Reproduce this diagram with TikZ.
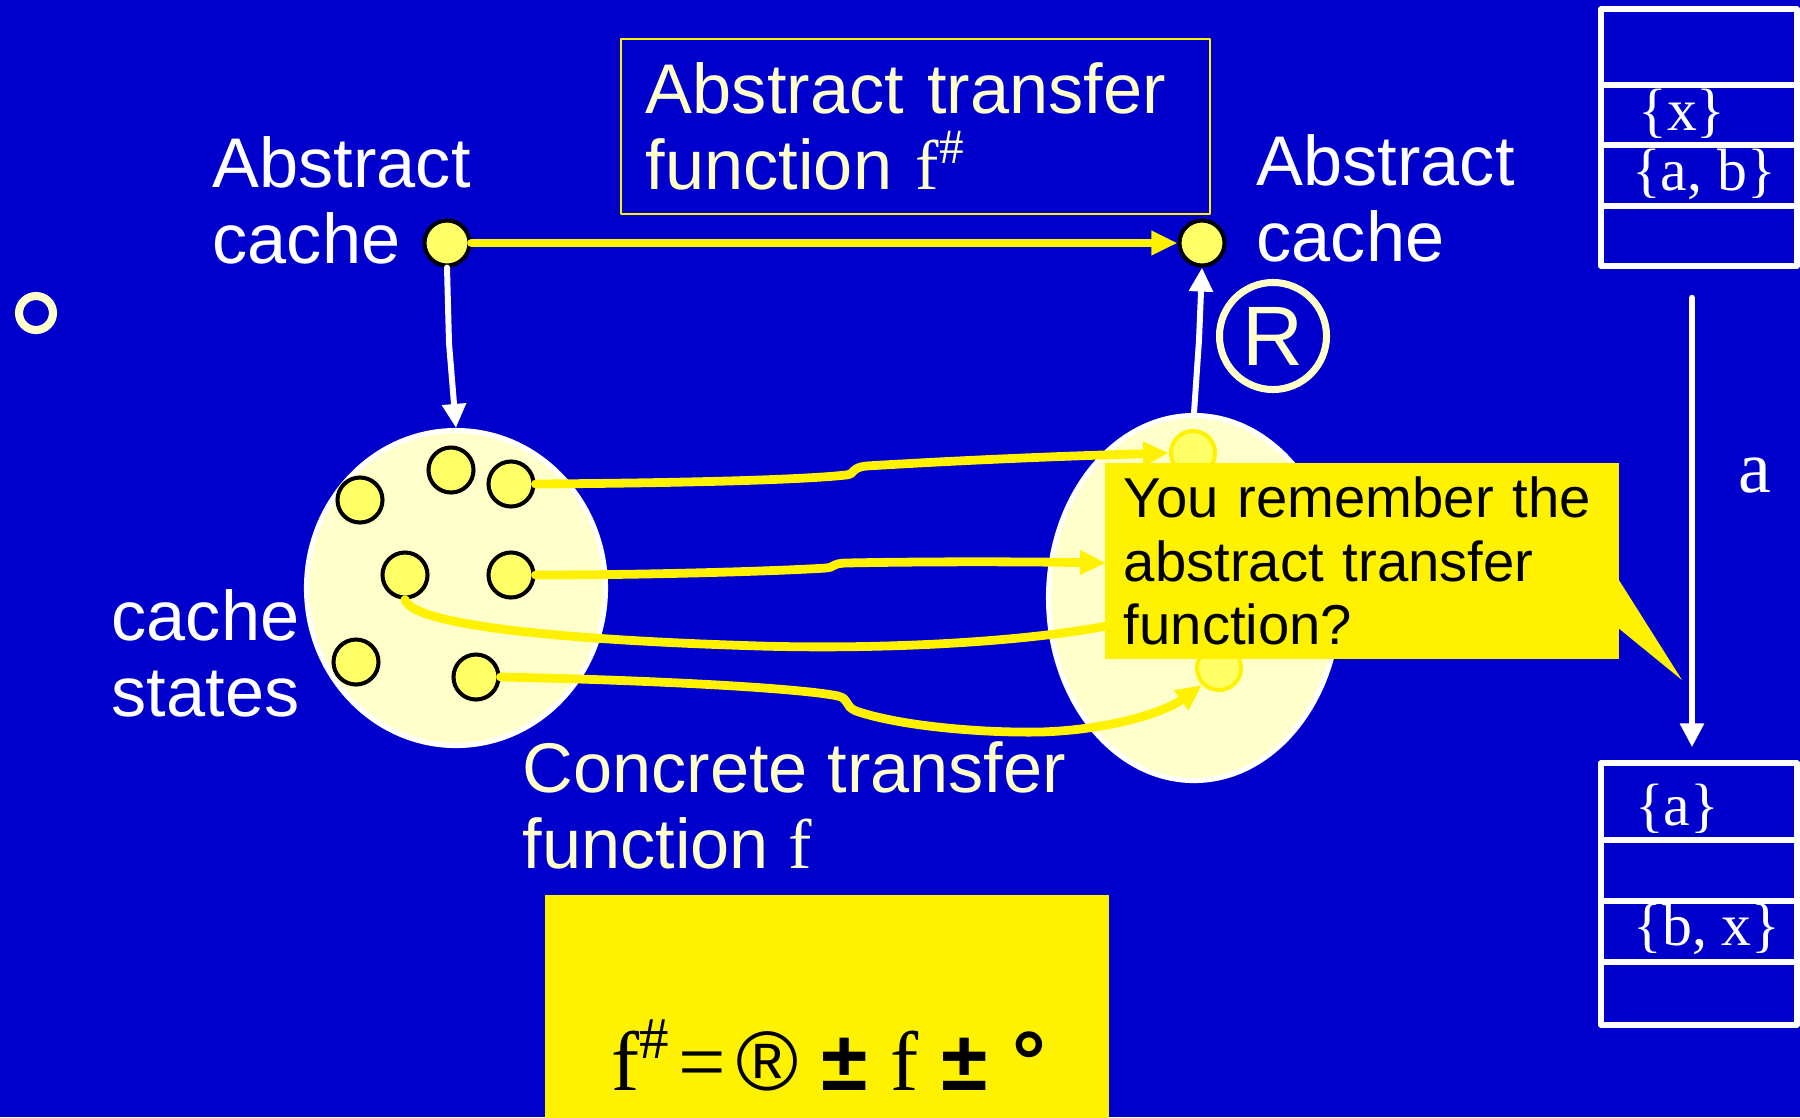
\documentclass[tikz,border=0pt]{standalone}
\usepackage{fontspec}
\setmainfont{Liberation Sans}
\newfontfamily\seriffont{Liberation Serif}
\usetikzlibrary{arrows.meta,shapes.geometric,positioning}
\definecolor{slideblue}{RGB}{0,0,204}
\definecolor{paleyellow}{RGB}{255,255,204}
\definecolor{dotyellow}{RGB}{255,255,102}
\begin{document}
\begin{tikzpicture}[x=0.01cm,y=-0.01cm,line join=round,line cap=round,
	plain/.style={inner sep=0pt,anchor=north west,align=left,font=\fontsize{20}{21.6}\selectfont},
	state/.style={circle,draw=black,line width=1.15pt,fill=dotyellow,minimum size=0.45cm,inner sep=0pt},
	ghost/.style={circle,draw=yellow,line width=1.15pt,fill=dotyellow,minimum size=0.44cm,inner sep=0pt},
	blob/.style={ellipse,draw=white,line width=1.4pt,fill=paleyellow,inner sep=0pt},
	flow/.style={draw=yellow,line width=2.5pt,-{Triangle[length=0.26cm,width=0.23cm]}},
	lift/.style={draw=white,line width=1.7pt,-{Triangle[length=0.24cm,width=0.23cm]}},
	cell/.style={draw=white,line width=1.5pt,inner sep=0pt},
	setname/.style={text=white,font=\seriffont\fontsize{17}{20}\selectfont,anchor=base,inner sep=0pt}]
	\useasboundingbox (0,0) rectangle (1800,1117);
	\fill[slideblue] (0,0) rectangle (1800,1117);
	\node[circle,draw=paleyellow,line width=2.3pt,minimum size=0.34cm,inner sep=0pt] (dot) at (36,313) {};
	% abstract side
	\node[draw=yellow,line width=0.6pt,text width=5.39cm,inner xsep=0.25cm,minimum height=1.75cm,align=left,text=paleyellow,font=\fontsize{20}{21.6}\selectfont] (absbox) at (915.5,126.5) {Abstract transfer\\function {\seriffont f\textsuperscript{\#}}};
	\node[plain,text=white] (absL) at (212,136) {Abstract\\cache};
	\node[plain,text=white] (absR) at (1256,134) {Abstract\\cache};
	\node[state] (cacheL) at (447,243) {};
	\node[state] (cacheR) at (1202,243) {};
	\draw[flow] (cacheL) -- (cacheR);
	\node[circle,draw=paleyellow,line width=2pt,minimum size=1.07cm,inner sep=0pt,text=paleyellow,font=\fontsize{24}{24}\selectfont] (gamma) at (1273,336) {R};
	% concrete side
	\node[blob,minimum width=2.99cm,minimum height=3.15cm] (setL) at (456,588) {};
	\node[blob,minimum width=2.91cm,minimum height=3.65cm] (setR) at (1194,598) {};
	\node[plain,text=white] (states) at (111,589) {cache\\states};
	\node[plain,text=paleyellow] (conc) at (522,741) {Concrete transfer\\function {\seriffont f}};
	\draw[lift] (cacheL.south) -- (449,343) -- (setL.north);
	\draw[lift] (setR.north) -- (1199,340) -- (cacheR.south);
	\node[ghost] (r1) at (1193,453) {};
	\node[ghost] (r2) at (1219,668) {};
	\coordinate (under) at (1150,616);
	\coordinate (edge) at (1106,563);
	\foreach \n/\x/\y in {1/360/500,2/451/470,3/511/484,4/405/575,5/511/575,6/356/662,7/476/677}
		\node[state] (q\n) at (\x,\y) {};
	% the curves run under the callout
	\draw[flow] (q3.east) .. controls (680,483) and (800,480) .. (846,475) .. controls (856,474) and (850,468) .. (866,466) .. controls (1000,458) and (1100,455) .. (r1.west);
	\draw[flow] (q5.east) .. controls (650,575) and (780,571) .. (826,568) .. controls (836,567) and (830,564) .. (845,563) .. controls (950,561) and (1050,562) .. (edge);
	\draw[flow] (q4.south) .. controls (412,625) and (560,640) .. (760,646) .. controls (900,650) and (1050,640) .. (under);
	\draw[flow] (q7.east) .. controls (650,680) and (800,688) .. (838,696) .. controls (850,699) and (844,706) .. (856,711) .. controls (900,726) and (980,733) .. (1040,732) .. controls (1110,730) and (1165,712) .. (r2.south west);
	\node[fill=yellow,text width=4.76cm,inner xsep=0.19cm,minimum height=1.96cm,align=left,font=\fontsize{16}{18}\selectfont] (tip) at (1362,561) {You remember the\\abstract transfer\\function?};
	\fill[yellow] (1617,577) -- (1682,680) -- (1617,627) -- cycle;
	% formula
	\node[fill=yellow,minimum width=5.64cm,minimum height=2.4cm,inner sep=0pt] (fbox) at (827,1015) {};
	\node[anchor=base west,inner sep=0pt,font=\fontsize{24}{28}\selectfont] (rule) at (611,1090) {{\seriffont f\textsuperscript{\#}\hspace{2pt}=\hspace{3pt}}®\hspace{6.5pt}\textbf{±}\hspace{6.5pt}{\seriffont f}\hspace{6.5pt}\textbf{±}\hspace{7pt}\textbf{°}};
	% cache tables
	\node[cell,minimum width=1.96cm,minimum height=2.57cm] (before) at (1699,137.5) {};
	\foreach \y in {85,145,206} \draw[cell] (1601,\y) -- (1797,\y);
	\node[setname] (bx) at (1682,130) {\{x\}};
	\node[setname] (bab) at (1704,190) {\{a, b\}};
	\node[cell,minimum width=1.96cm,minimum height=2.62cm] (after) at (1699,894) {};
	\foreach \y in {840,901,962} \draw[cell] (1601,\y) -- (1797,\y);
	\node[setname] (aa) at (1677,825) {\{a\}};
	\node[setname] (abx) at (1707,945) {\{b, x\}};
	\draw[lift] ([xshift=-0.07cm,yshift=-0.29cm]before.south) -- ([xshift=-0.07cm,yshift=0.13cm]after.north);
	\node[text=white,font=\seriffont\fontsize{21}{21}\selectfont,anchor=base,inner sep=0pt] (acc) at (1755,492) {a};
\end{tikzpicture}
\end{document}
